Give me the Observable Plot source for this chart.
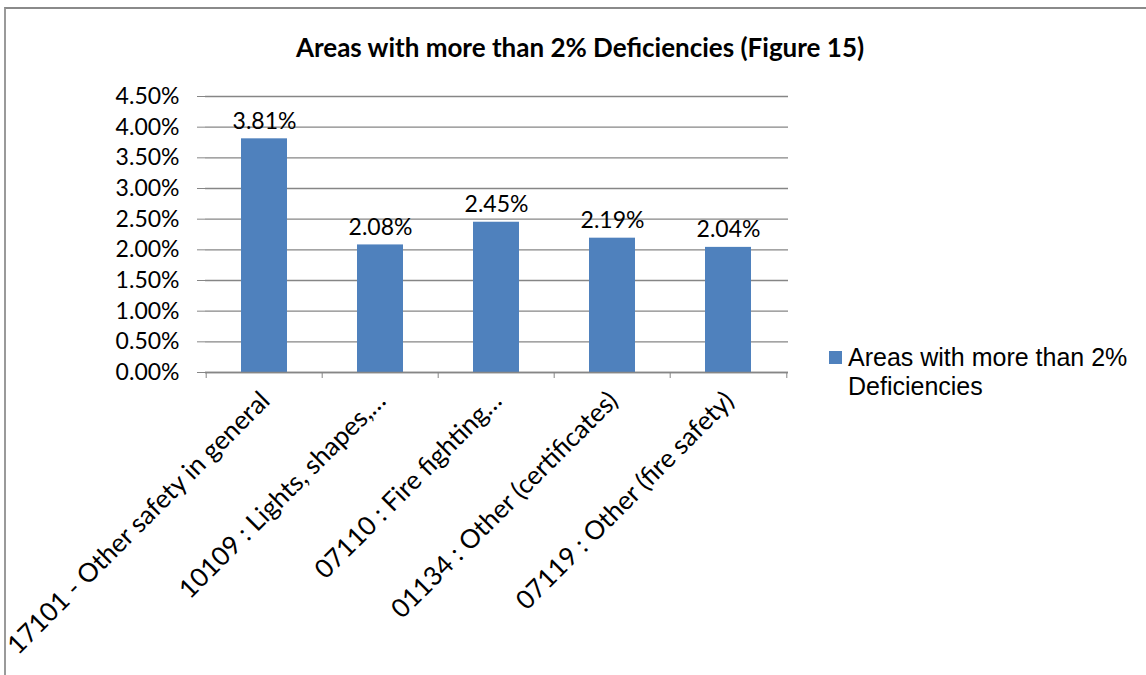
<!DOCTYPE html>
<html>
<head>
<meta charset="utf-8">
<script src="https://cdn.jsdelivr.net/npm/d3@7"></script>
<script src="https://cdn.jsdelivr.net/npm/@observablehq/plot@0.6"></script>
<style>
  html, body { margin: 0; padding: 0; background: #fff; }
  #wrap { position: relative; width: 1146px; height: 675px; overflow: hidden; background: #fff; }
  #border { position: absolute; left: 4px; top: 7px; width: 1200px; height: 700px;
            border-top: 2px solid #8a8a8a; border-left: 2px solid #9a9a9a; }
  #title { position: absolute; left: 0; width: 1160px; top: 31px; text-align: center;
           font-family: Lato, sans-serif; font-weight: bold; font-size: 26px; color: #000; }
  #chart { position: absolute; left: 0; top: 0; }
  #legend { position: absolute; left: 829px; top: 343px; font-family: "Liberation Sans", Arial, sans-serif;
            font-size: 25px; line-height: 29px; color: #000; }
  #legend .sw { position: absolute; left: 0; top: 8px; width: 13px; height: 13px; background: #4F81BD; }
  #legend .tx { margin-left: 19px; }
</style>
</head>
<body>
<div id="wrap">
  <div id="border"></div>
  <div id="chart"></div>
  <div id="title">Areas with more than 2% Deficiencies (Figure 15)</div>
  <div id="legend"><div class="sw"></div><div class="tx">Areas with more than 2%<br>Deficiencies</div></div>
</div>
<script>
const categories = [
  "17101 - Other safety in general",
  "10109 : Lights, shapes,…",
  "07110 : Fire fighting…",
  "01134 : Other (certificates)",
  "07119 : Other (fire safety)"
];
const values = [0.0381, 0.0208, 0.0245, 0.0219, 0.0204];
const yTicks = [0, 0.005, 0.01, 0.015, 0.02, 0.025, 0.03, 0.035, 0.04, 0.045];

const data = categories.map((c, i) => ({category: c, value: values[i]}));

const W = 1146, H = 675;
const mL = 205, mR = 358, mT = 96, mB = 303;
const step = (W - mL - mR) / categories.length;
const fmt = d3.format(".2%");
const grey = "#868686";
const font = "Lato, sans-serif";

const chart = Plot.plot({
  width: W,
  height: H,
  marginLeft: mL,
  marginRight: mR,
  marginTop: mT,
  marginBottom: mB,
  style: {fontFamily: font, fontSize: "23px", color: "#000", background: "transparent", overflow: "visible"},
  x: {domain: categories, paddingInner: 0.6, paddingOuter: 0.3, align: 0.5},
  y: {domain: [0, 0.045]},
  marks: [
    Plot.gridY(yTicks, {stroke: grey, strokeOpacity: 1, strokeWidth: 1.3}),
    Plot.barY(data, {x: "category", y: "value", fill: "#4F81BD"}),
    Plot.ruleY([0], {stroke: grey, strokeWidth: 1.3}),
    Plot.axisY({ticks: yTicks, tickFormat: fmt, tickSize: 8, tickPadding: 18, stroke: grey, strokeOpacity: 1,
                line: true, label: null, fontSize: 23, fill: "#000"}),
    Plot.axisX({tickSize: 6, tickFormat: () => "", dx: -step / 2, stroke: grey, strokeOpacity: 1, label: null}),
    Plot.axisX({ticks: [categories[categories.length - 1]], tickSize: 6, tickFormat: () => "", dx: step / 2,
                stroke: grey, strokeOpacity: 1, label: null}),
    Plot.axisX({tickSize: 0, tickPadding: 24, tickRotate: -45, dx: 1, label: null, fontSize: 26, fill: "#000",
                textAnchor: "end"}),
    Plot.text(data, {x: "category", y: "value", text: d => fmt(d.value), dy: -10, lineAnchor: "bottom",
                     fontSize: 23, fill: "#000"})
  ]
});
document.getElementById("chart").appendChild(chart);
</script>
</body>
</html>
